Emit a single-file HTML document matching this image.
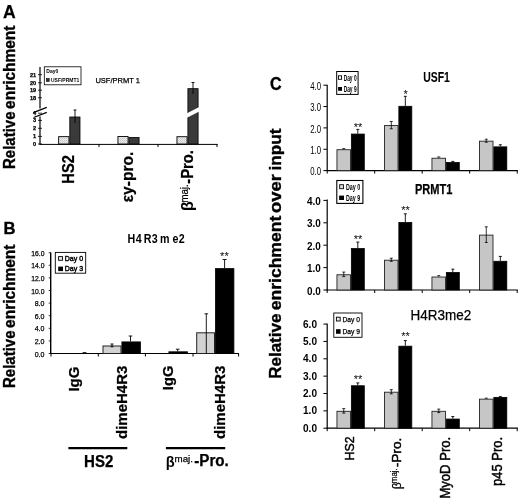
<!DOCTYPE html>
<html lang="en">
<head>
<meta charset="utf-8">
<title>Figure</title>
<style>
html,body{margin:0;padding:0;background:#fff;}
body{width:520px;height:501px;overflow:hidden;}
svg{display:block;}
svg text{font-family:"Liberation Sans",sans-serif;fill:#000;}
</style>
</head>
<body>
<svg width="520" height="501" viewBox="0 0 520 501">
<defs>
<pattern id="dots" width="2" height="2" patternUnits="userSpaceOnUse">
<rect width="2" height="2" fill="#ececec"/>
<rect width="1" height="1" fill="#c4c4c4"/>
<rect x="1" y="1" width="1" height="1" fill="#d4d4d4"/>
</pattern>
</defs>
<rect width="520" height="501" fill="#fff"/>

<g id="panelA">
<text font-size="17.6" font-weight="bold" x="3.0" y="17.5" stroke="#000" stroke-width="0.25">A</text>
<text font-size="15.6" font-weight="bold" transform="translate(15.0 169.0) rotate(-90)" stroke="#000" stroke-width="0.35"><tspan x="0.0" textLength="57.5" lengthAdjust="spacingAndGlyphs">Relative</tspan> <tspan x="60.1" textLength="83.3" lengthAdjust="spacingAndGlyphs">enrichment</tspan></text>
<line x1="40" y1="67" x2="40" y2="108.5" stroke="#000" stroke-width="1.2" />
<line x1="40" y1="116.5" x2="40" y2="144.5" stroke="#000" stroke-width="1.2" />
<line x1="39.5" y1="144.4" x2="217.5" y2="144.4" stroke="#000" stroke-width="1" />
<line x1="99" y1="144" x2="99" y2="147" stroke="#000" stroke-width="1" />
<line x1="158" y1="144" x2="158" y2="147" stroke="#000" stroke-width="1" />
<line x1="217" y1="144" x2="217" y2="147" stroke="#000" stroke-width="1" />
<line x1="33.3" y1="112.6" x2="46.8" y2="107.4" stroke="#000" stroke-width="1.3" />
<line x1="33.6" y1="117.5" x2="46.8" y2="112.4" stroke="#000" stroke-width="1.3" />
<line x1="38" y1="74.7" x2="42" y2="74.7" stroke="#000" stroke-width="0.8" />
<text font-size="5.4" font-weight="bold" text-anchor="end" textLength="6.2" lengthAdjust="spacingAndGlyphs" x="36.2" y="76.60000000000001" stroke="#000" stroke-width="0.25">21</text>
<line x1="38" y1="82.8" x2="42" y2="82.8" stroke="#000" stroke-width="0.8" />
<text font-size="5.4" font-weight="bold" text-anchor="end" textLength="6.2" lengthAdjust="spacingAndGlyphs" x="36.2" y="84.7" stroke="#000" stroke-width="0.25">20</text>
<line x1="38" y1="90.2" x2="42" y2="90.2" stroke="#000" stroke-width="0.8" />
<text font-size="5.4" font-weight="bold" text-anchor="end" textLength="6.2" lengthAdjust="spacingAndGlyphs" x="36.2" y="92.10000000000001" stroke="#000" stroke-width="0.25">19</text>
<line x1="38" y1="97.7" x2="42" y2="97.7" stroke="#000" stroke-width="0.8" />
<text font-size="5.4" font-weight="bold" text-anchor="end" textLength="6.2" lengthAdjust="spacingAndGlyphs" x="36.2" y="99.60000000000001" stroke="#000" stroke-width="0.25">18</text>
<line x1="38" y1="113.2" x2="42" y2="113.2" stroke="#000" stroke-width="0.8" />
<text font-size="5.4" font-weight="bold" text-anchor="end" textLength="3.1" lengthAdjust="spacingAndGlyphs" x="36.2" y="115.10000000000001" stroke="#000" stroke-width="0.25">4</text>
<line x1="38" y1="120.4" x2="42" y2="120.4" stroke="#000" stroke-width="0.8" />
<text font-size="5.4" font-weight="bold" text-anchor="end" textLength="3.1" lengthAdjust="spacingAndGlyphs" x="36.2" y="122.30000000000001" stroke="#000" stroke-width="0.25">3</text>
<line x1="38" y1="128.3" x2="42" y2="128.3" stroke="#000" stroke-width="0.8" />
<text font-size="5.4" font-weight="bold" text-anchor="end" textLength="3.1" lengthAdjust="spacingAndGlyphs" x="36.2" y="130.20000000000002" stroke="#000" stroke-width="0.25">2</text>
<line x1="38" y1="136.4" x2="42" y2="136.4" stroke="#000" stroke-width="0.8" />
<text font-size="5.4" font-weight="bold" text-anchor="end" textLength="3.1" lengthAdjust="spacingAndGlyphs" x="36.2" y="138.3" stroke="#000" stroke-width="0.25">1</text>
<line x1="38" y1="144" x2="42" y2="144" stroke="#000" stroke-width="0.8" />
<text font-size="5.4" font-weight="bold" text-anchor="end" textLength="3.1" lengthAdjust="spacingAndGlyphs" x="36.2" y="145.9" stroke="#000" stroke-width="0.25">0</text>
<rect x="44.30" y="66.80" width="36.70" height="18.00" fill="#fff" stroke="#000" stroke-width="0.8"/>
<text font-size="5.4" font-weight="bold" textLength="12" lengthAdjust="spacingAndGlyphs" x="46.3" y="73.4">Day0</text>
<rect x="46.40" y="78.60" width="2.80" height="2.80" fill="#333" stroke="#000" stroke-width="0.6"/>
<text font-size="5" font-weight="bold" textLength="28.2" lengthAdjust="spacingAndGlyphs" x="51" y="81.8">USF/PRMT1</text>
<text font-size="8" textLength="44.6" lengthAdjust="spacingAndGlyphs" x="95.4" y="83.4" stroke="#000" stroke-width="0.25">USF/PRMT 1</text>
<rect x="58.65" y="136.65" width="10.30" height="7.35" fill="url(#dots)" stroke="#000" stroke-width="0.9"/>
<rect x="69.80" y="117.00" width="10.20" height="27.00" fill="#3a3a3a" stroke="#000" stroke-width="0.8"/>
<line x1="75" y1="110" x2="75" y2="123" stroke="#000" stroke-width="0.9" />
<line x1="73.5" y1="110" x2="76.5" y2="110" stroke="#000" stroke-width="0.9" />
<rect x="117.95" y="136.45" width="10.10" height="7.55" fill="url(#dots)" stroke="#000" stroke-width="0.9"/>
<rect x="128.90" y="137.40" width="10.20" height="6.60" fill="#3a3a3a" stroke="#000" stroke-width="0.8"/>
<rect x="176.95" y="136.70" width="10.10" height="7.30" fill="url(#dots)" stroke="#000" stroke-width="0.9"/>
<rect x="187.90" y="88.65" width="10.20" height="55.35" fill="#3a3a3a" stroke="#000" stroke-width="0.8"/>
<line x1="193" y1="82.5" x2="193" y2="94" stroke="#000" stroke-width="0.9" />
<line x1="191.5" y1="82.5" x2="194.5" y2="82.5" stroke="#000" stroke-width="0.9" />
<polygon points="185.5,114 199.8,106.8 199.8,111.3 185.5,118.5" fill="#fff"/>
<text font-size="15.6" font-weight="bold" textLength="28.6" lengthAdjust="spacingAndGlyphs" transform="translate(74.3 183.7) rotate(-90)" stroke="#000" stroke-width="0.25">HS2</text>
<text font-size="17" font-weight="bold" textLength="50.6" lengthAdjust="spacingAndGlyphs" transform="translate(132.6 202.3) rotate(-90)" stroke="#000" stroke-width="0.25">&#949;y-pro.</text>
<text font-size="16" font-weight="bold" transform="translate(193.2 210.9) rotate(-90)">&#946;</text>
<text font-size="10" textLength="18.2" lengthAdjust="spacingAndGlyphs" transform="translate(187.6 202.5) rotate(-90)" stroke="#000" stroke-width="0.25">maj.</text>
<text font-size="16" font-weight="bold" textLength="33.8" lengthAdjust="spacingAndGlyphs" transform="translate(193.2 183.8) rotate(-90)" stroke="#000" stroke-width="0.25">-Pro.</text>
</g>
<g id="panelB">
<text font-size="16.6" font-weight="bold" x="3.6" y="234.2" stroke="#000" stroke-width="0.35">B</text>
<text font-size="15.6" font-weight="bold" transform="translate(15.0 388.0) rotate(-90)" stroke="#000" stroke-width="0.35"><tspan x="0.0" textLength="57.5" lengthAdjust="spacingAndGlyphs">Relative</tspan> <tspan x="60.1" textLength="83.3" lengthAdjust="spacingAndGlyphs">enrichment</tspan></text>
<line x1="50.7" y1="252.5" x2="50.7" y2="354.0" stroke="#000" stroke-width="1.4" />
<line x1="50.2" y1="353.5" x2="239" y2="353.5" stroke="#000" stroke-width="1" />
<line x1="51" y1="353.5" x2="51" y2="356.5" stroke="#000" stroke-width="1" />
<line x1="98.3" y1="353.5" x2="98.3" y2="356.5" stroke="#000" stroke-width="1" />
<line x1="145.4" y1="353.5" x2="145.4" y2="356.5" stroke="#000" stroke-width="1" />
<line x1="193" y1="353.5" x2="193" y2="356.5" stroke="#000" stroke-width="1" />
<line x1="238.6" y1="353.5" x2="238.6" y2="356.5" stroke="#000" stroke-width="1" />
<line x1="48.7" y1="353.5" x2="50.7" y2="353.5" stroke="#000" stroke-width="0.8" />
<text font-size="7.5" text-anchor="end" textLength="9.8" lengthAdjust="spacingAndGlyphs" x="44.5" y="356.5" stroke="#000" stroke-width="0.25">0.0</text>
<line x1="48.7" y1="340.9" x2="50.7" y2="340.9" stroke="#000" stroke-width="0.8" />
<text font-size="7.5" text-anchor="end" textLength="9.8" lengthAdjust="spacingAndGlyphs" x="44.5" y="343.9" stroke="#000" stroke-width="0.25">2.0</text>
<line x1="48.7" y1="328.3" x2="50.7" y2="328.3" stroke="#000" stroke-width="0.8" />
<text font-size="7.5" text-anchor="end" textLength="9.8" lengthAdjust="spacingAndGlyphs" x="44.5" y="331.3" stroke="#000" stroke-width="0.25">4.0</text>
<line x1="48.7" y1="315.7" x2="50.7" y2="315.7" stroke="#000" stroke-width="0.8" />
<text font-size="7.5" text-anchor="end" textLength="9.8" lengthAdjust="spacingAndGlyphs" x="44.5" y="318.7" stroke="#000" stroke-width="0.25">6.0</text>
<line x1="48.7" y1="303.1" x2="50.7" y2="303.1" stroke="#000" stroke-width="0.8" />
<text font-size="7.5" text-anchor="end" textLength="9.8" lengthAdjust="spacingAndGlyphs" x="44.5" y="306.1" stroke="#000" stroke-width="0.25">8.0</text>
<line x1="48.7" y1="290.5" x2="50.7" y2="290.5" stroke="#000" stroke-width="0.8" />
<text font-size="7.5" text-anchor="end" textLength="13.2" lengthAdjust="spacingAndGlyphs" x="44.5" y="293.5" stroke="#000" stroke-width="0.25">10.0</text>
<line x1="48.7" y1="277.9" x2="50.7" y2="277.9" stroke="#000" stroke-width="0.8" />
<text font-size="7.5" text-anchor="end" textLength="13.2" lengthAdjust="spacingAndGlyphs" x="44.5" y="280.9" stroke="#000" stroke-width="0.25">12.0</text>
<line x1="48.7" y1="265.3" x2="50.7" y2="265.3" stroke="#000" stroke-width="0.8" />
<text font-size="7.5" text-anchor="end" textLength="13.2" lengthAdjust="spacingAndGlyphs" x="44.5" y="268.3" stroke="#000" stroke-width="0.25">14.0</text>
<line x1="48.7" y1="252.7" x2="50.7" y2="252.7" stroke="#000" stroke-width="0.8" />
<text font-size="7.5" text-anchor="end" textLength="13.2" lengthAdjust="spacingAndGlyphs" x="44.5" y="255.7" stroke="#000" stroke-width="0.25">16.0</text>
<rect x="55.30" y="252.40" width="30.40" height="20.80" fill="#fff" stroke="#000" stroke-width="0.9"/>
<rect x="58.60" y="256.60" width="3.90" height="3.70" fill="#e8e8e8" stroke="#000" stroke-width="0.9"/>
<rect x="58.20" y="266.60" width="4.80" height="4.50" fill="#000"/>
<text font-size="7.8" textLength="18.3" lengthAdjust="spacingAndGlyphs" x="64.8" y="261.1" stroke="#000" stroke-width="0.45">Day 0</text>
<text font-size="7.8" textLength="18.3" lengthAdjust="spacingAndGlyphs" x="64.8" y="271.1" stroke="#000" stroke-width="0.45">Day 3</text>
<text font-size="12.3" font-weight="bold" transform="scale(0.87 1)" y="242.6" x="146.55 155.98 165.29 174.48 183.91 198.28 205.40">H4R3me2</text>
<rect x="82.60" y="352.20" width="3.80" height="1.30" fill="#000"/>
<rect x="103.00" y="346.00" width="18.00" height="7.50" fill="#d2d2d2" stroke="#222" stroke-width="1"/>
<line x1="112" y1="344" x2="112" y2="346.8" stroke="#000" stroke-width="0.9" />
<line x1="110.5" y1="344" x2="113.5" y2="344" stroke="#000" stroke-width="0.9" />
<line x1="110.5" y1="346.8" x2="113.5" y2="346.8" stroke="#000" stroke-width="0.9" />
<rect x="121.90" y="341.90" width="18.50" height="11.60" fill="#000" stroke="#000" stroke-width="0.8"/>
<line x1="130.5" y1="336" x2="130.5" y2="341.5" stroke="#000" stroke-width="0.9" />
<line x1="128.7" y1="336" x2="132.3" y2="336" stroke="#000" stroke-width="0.9" />
<rect x="168.90" y="351.80" width="18.50" height="1.70" fill="#000" stroke="#000" stroke-width="0.8"/>
<line x1="177.7" y1="349.2" x2="177.7" y2="351.4" stroke="#000" stroke-width="0.9" />
<line x1="175.89999999999998" y1="349.2" x2="179.5" y2="349.2" stroke="#000" stroke-width="0.9" />
<rect x="196.70" y="332.80" width="17.80" height="20.70" fill="#d2d2d2" stroke="#222" stroke-width="1"/>
<line x1="206.3" y1="313.8" x2="206.3" y2="353.5" stroke="#000" stroke-width="0.9" />
<line x1="204.5" y1="313.8" x2="208.10000000000002" y2="313.8" stroke="#000" stroke-width="0.9" />
<rect x="215.40" y="268.60" width="18.50" height="84.90" fill="#000" stroke="#000" stroke-width="0.8"/>
<line x1="224.6" y1="259.5" x2="224.6" y2="268.2" stroke="#000" stroke-width="0.9" />
<line x1="222.6" y1="259.5" x2="226.6" y2="259.5" stroke="#000" stroke-width="0.9" />
<text font-size="11" text-anchor="middle" x="224.4" y="260.3">**</text>
<text font-size="15.2" font-weight="bold" textLength="25" lengthAdjust="spacingAndGlyphs" transform="translate(78.8 391.6) rotate(-90)" stroke="#000" stroke-width="0.25">IgG</text>
<text font-size="15.4" font-weight="bold" textLength="73.4" lengthAdjust="spacingAndGlyphs" transform="translate(126.9 439) rotate(-90)" stroke="#000" stroke-width="0.25">dimeH4R3</text>
<text font-size="15.2" font-weight="bold" textLength="24.6" lengthAdjust="spacingAndGlyphs" transform="translate(172.9 390.2) rotate(-90)" stroke="#000" stroke-width="0.25">IgG</text>
<text font-size="15.4" font-weight="bold" textLength="73.4" lengthAdjust="spacingAndGlyphs" transform="translate(225.4 439) rotate(-90)" stroke="#000" stroke-width="0.25">dimeH4R3</text>
<line x1="68.4" y1="448.1" x2="127.3" y2="448.1" stroke="#000" stroke-width="2.4" />
<line x1="165.9" y1="448.1" x2="225.2" y2="448.1" stroke="#000" stroke-width="2.4" />
<text font-size="15.8" font-weight="bold" textLength="29.3" lengthAdjust="spacingAndGlyphs" x="84.1" y="466.8" stroke="#000" stroke-width="0.25">HS2</text>
<text font-size="14.6" font-weight="bold" x="165.8" y="466.5">&#946;</text>
<text font-size="9.7" textLength="18.4" lengthAdjust="spacingAndGlyphs" x="174.6" y="462" stroke="#000" stroke-width="0.25">maj.</text>
<text font-size="15.8" font-weight="bold" textLength="34.6" lengthAdjust="spacingAndGlyphs" x="194.2" y="466.4" stroke="#000" stroke-width="0.25">-Pro.</text>
</g>
<g id="panelC">
<text font-size="17.6" font-weight="bold" textLength="11.6" lengthAdjust="spacingAndGlyphs" x="270" y="89.8" stroke="#000" stroke-width="0.35">C</text>
<text font-size="16.4" font-weight="bold" transform="translate(281.1 378.8) rotate(-90)" stroke="#000" stroke-width="0.35"><tspan x="0.0" textLength="65.2" lengthAdjust="spacingAndGlyphs">Relative</tspan> <tspan x="68.5" textLength="94.6" lengthAdjust="spacingAndGlyphs">enrichment</tspan> <tspan x="165.8" textLength="38.8" lengthAdjust="spacingAndGlyphs">over</tspan> <tspan x="208.4" textLength="41.8" lengthAdjust="spacingAndGlyphs">input</tspan></text>
<line x1="327.2" y1="84.7" x2="327.2" y2="171.1" stroke="#000" stroke-width="1.2" />
<line x1="326.5" y1="170.6" x2="517.9" y2="170.6" stroke="#000" stroke-width="1.2" />
<line x1="327.2" y1="170.6" x2="327.2" y2="173.6" stroke="#000" stroke-width="1" />
<line x1="374.7" y1="170.6" x2="374.7" y2="173.6" stroke="#000" stroke-width="1" />
<line x1="422.2" y1="170.6" x2="422.2" y2="173.6" stroke="#000" stroke-width="1" />
<line x1="469.7" y1="170.6" x2="469.7" y2="173.6" stroke="#000" stroke-width="1" />
<line x1="517.2" y1="170.6" x2="517.2" y2="173.6" stroke="#000" stroke-width="1" />
<line x1="323.4" y1="170.6" x2="327" y2="170.6" stroke="#000" stroke-width="1" />
<text font-size="10.6" text-anchor="end" textLength="10.8" lengthAdjust="spacingAndGlyphs" x="321" y="175.4">0.0</text>
<line x1="323.4" y1="149.25" x2="327" y2="149.25" stroke="#000" stroke-width="1" />
<text font-size="10.6" text-anchor="end" textLength="10.8" lengthAdjust="spacingAndGlyphs" x="321" y="154.05">1.0</text>
<line x1="323.4" y1="127.89999999999999" x2="327" y2="127.89999999999999" stroke="#000" stroke-width="1" />
<text font-size="10.6" text-anchor="end" textLength="10.8" lengthAdjust="spacingAndGlyphs" x="321" y="132.7">2.0</text>
<line x1="323.4" y1="106.54999999999998" x2="327" y2="106.54999999999998" stroke="#000" stroke-width="1" />
<text font-size="10.6" text-anchor="end" textLength="10.8" lengthAdjust="spacingAndGlyphs" x="321" y="111.34999999999998">3.0</text>
<line x1="323.4" y1="85.19999999999999" x2="327" y2="85.19999999999999" stroke="#000" stroke-width="1" />
<text font-size="10.6" text-anchor="end" textLength="10.8" lengthAdjust="spacingAndGlyphs" x="321" y="89.99999999999999">4.0</text>
<rect x="336.95" y="149.70" width="13.55" height="20.90" fill="#c6c6c6" stroke="#222" stroke-width="0.9"/>
<line x1="343.775" y1="148.6095" x2="343.775" y2="149.25" stroke="#000" stroke-width="0.8" />
<line x1="342.275" y1="148.6095" x2="345.275" y2="148.6095" stroke="#000" stroke-width="0.8" />
<rect x="351.35" y="134.06" width="12.95" height="36.54" fill="#000" stroke="#000" stroke-width="0.8"/>
<line x1="357.825" y1="129.3945" x2="357.825" y2="133.66449999999998" stroke="#000" stroke-width="0.9" />
<line x1="356.325" y1="129.3945" x2="359.325" y2="129.3945" stroke="#000" stroke-width="0.9" />
<text font-size="11" text-anchor="middle" x="358.125" y="130.59449999999998">**</text>
<rect x="384.45" y="125.57" width="13.55" height="45.03" fill="#c6c6c6" stroke="#222" stroke-width="0.9"/>
<line x1="391.275" y1="121.495" x2="391.275" y2="128.754" stroke="#000" stroke-width="0.8" />
<line x1="389.775" y1="121.495" x2="392.775" y2="121.495" stroke="#000" stroke-width="0.8" />
<line x1="389.775" y1="128.754" x2="392.775" y2="128.754" stroke="#000" stroke-width="0.8" />
<rect x="398.85" y="106.31" width="12.95" height="64.29" fill="#000" stroke="#000" stroke-width="0.8"/>
<line x1="405.325" y1="96.30199999999999" x2="405.325" y2="105.9095" stroke="#000" stroke-width="0.9" />
<line x1="403.825" y1="96.30199999999999" x2="406.825" y2="96.30199999999999" stroke="#000" stroke-width="0.9" />
<text font-size="11" text-anchor="middle" x="405.625" y="97.502">*</text>
<rect x="431.95" y="158.24" width="13.55" height="12.36" fill="#c6c6c6" stroke="#222" stroke-width="0.9"/>
<line x1="438.775" y1="156.93599999999998" x2="438.775" y2="157.79" stroke="#000" stroke-width="0.8" />
<line x1="437.275" y1="156.93599999999998" x2="440.275" y2="156.93599999999998" stroke="#000" stroke-width="0.8" />
<rect x="446.35" y="162.46" width="12.95" height="8.14" fill="#000" stroke="#000" stroke-width="0.8"/>
<line x1="452.825" y1="161.4195" x2="452.825" y2="162.06" stroke="#000" stroke-width="0.9" />
<line x1="451.325" y1="161.4195" x2="454.325" y2="161.4195" stroke="#000" stroke-width="0.9" />
<rect x="479.45" y="141.16" width="13.55" height="29.44" fill="#c6c6c6" stroke="#222" stroke-width="0.9"/>
<line x1="486.27500000000003" y1="139.2155" x2="486.27500000000003" y2="142.2045" stroke="#000" stroke-width="0.8" />
<line x1="484.77500000000003" y1="139.2155" x2="487.77500000000003" y2="139.2155" stroke="#000" stroke-width="0.8" />
<line x1="484.77500000000003" y1="142.2045" x2="487.77500000000003" y2="142.2045" stroke="#000" stroke-width="0.8" />
<rect x="493.85" y="146.87" width="12.95" height="23.73" fill="#000" stroke="#000" stroke-width="0.8"/>
<line x1="500.32500000000005" y1="144.7665" x2="500.32500000000005" y2="146.4745" stroke="#000" stroke-width="0.9" />
<line x1="498.82500000000005" y1="144.7665" x2="501.82500000000005" y2="144.7665" stroke="#000" stroke-width="0.9" />
<rect x="336.70" y="71.50" width="21.40" height="22.90" fill="#fff" stroke="#000" stroke-width="1"/>
<rect x="338.50" y="75.80" width="3.10" height="3.50" fill="#fff" stroke="#000" stroke-width="0.9"/>
<rect x="338.10" y="87.00" width="3.90" height="3.80" fill="#000"/>
<text font-size="8.4" font-weight="bold" textLength="12.9" lengthAdjust="spacingAndGlyphs" x="343.7" y="80.8">Day 0</text>
<text font-size="8.4" font-weight="bold" textLength="12.9" lengthAdjust="spacingAndGlyphs" x="343.7" y="91.5">Day 9</text>
<text font-size="15.2" font-weight="bold" textLength="26.6" lengthAdjust="spacingAndGlyphs" x="423.3" y="81.5" stroke="#000" stroke-width="0.1">USF1</text>
<line x1="327.2" y1="199.5" x2="327.2" y2="290.5" stroke="#000" stroke-width="1.2" />
<line x1="326.5" y1="290" x2="517.9" y2="290" stroke="#000" stroke-width="1.2" />
<line x1="327.2" y1="290" x2="327.2" y2="293" stroke="#000" stroke-width="1" />
<line x1="374.7" y1="290" x2="374.7" y2="293" stroke="#000" stroke-width="1" />
<line x1="422.2" y1="290" x2="422.2" y2="293" stroke="#000" stroke-width="1" />
<line x1="469.7" y1="290" x2="469.7" y2="293" stroke="#000" stroke-width="1" />
<line x1="517.2" y1="290" x2="517.2" y2="293" stroke="#000" stroke-width="1" />
<line x1="323.4" y1="290.0" x2="327" y2="290.0" stroke="#000" stroke-width="1" />
<text font-size="10.6" font-weight="bold" text-anchor="end" textLength="13.8" lengthAdjust="spacingAndGlyphs" x="320.8" y="294.6">0.0</text>
<line x1="323.4" y1="267.6" x2="327" y2="267.6" stroke="#000" stroke-width="1" />
<text font-size="10.6" font-weight="bold" text-anchor="end" textLength="13.8" lengthAdjust="spacingAndGlyphs" x="320.8" y="272.20000000000005">1.0</text>
<line x1="323.4" y1="245.2" x2="327" y2="245.2" stroke="#000" stroke-width="1" />
<text font-size="10.6" font-weight="bold" text-anchor="end" textLength="13.8" lengthAdjust="spacingAndGlyphs" x="320.8" y="249.79999999999998">2.0</text>
<line x1="323.4" y1="222.8" x2="327" y2="222.8" stroke="#000" stroke-width="1" />
<text font-size="10.6" font-weight="bold" text-anchor="end" textLength="13.8" lengthAdjust="spacingAndGlyphs" x="320.8" y="227.4">3.0</text>
<line x1="323.4" y1="200.4" x2="327" y2="200.4" stroke="#000" stroke-width="1" />
<text font-size="10.6" font-weight="bold" text-anchor="end" textLength="13.8" lengthAdjust="spacingAndGlyphs" x="320.8" y="205.0">4.0</text>
<rect x="336.95" y="274.77" width="13.55" height="15.23" fill="#c6c6c6" stroke="#222" stroke-width="0.9"/>
<line x1="343.775" y1="272.08" x2="343.775" y2="276.56" stroke="#000" stroke-width="0.8" />
<line x1="342.275" y1="272.08" x2="345.275" y2="272.08" stroke="#000" stroke-width="0.8" />
<line x1="342.275" y1="276.56" x2="345.275" y2="276.56" stroke="#000" stroke-width="0.8" />
<rect x="351.35" y="248.51" width="12.95" height="41.49" fill="#000" stroke="#000" stroke-width="0.8"/>
<line x1="357.825" y1="242.064" x2="357.825" y2="248.112" stroke="#000" stroke-width="0.9" />
<line x1="356.325" y1="242.064" x2="359.325" y2="242.064" stroke="#000" stroke-width="0.9" />
<text font-size="11" text-anchor="middle" x="358.125" y="242.664">**</text>
<rect x="384.45" y="260.21" width="13.55" height="29.79" fill="#c6c6c6" stroke="#222" stroke-width="0.9"/>
<line x1="391.275" y1="258.192" x2="391.275" y2="261.328" stroke="#000" stroke-width="0.8" />
<line x1="389.775" y1="258.192" x2="392.775" y2="258.192" stroke="#000" stroke-width="0.8" />
<line x1="389.775" y1="261.328" x2="392.775" y2="261.328" stroke="#000" stroke-width="0.8" />
<rect x="398.85" y="222.53" width="12.95" height="67.47" fill="#000" stroke="#000" stroke-width="0.8"/>
<line x1="405.325" y1="213.84" x2="405.325" y2="222.12800000000001" stroke="#000" stroke-width="0.9" />
<line x1="403.825" y1="213.84" x2="406.825" y2="213.84" stroke="#000" stroke-width="0.9" />
<text font-size="11" text-anchor="middle" x="405.625" y="214.44">**</text>
<rect x="431.95" y="277.01" width="13.55" height="12.99" fill="#c6c6c6" stroke="#222" stroke-width="0.9"/>
<line x1="438.775" y1="275.664" x2="438.775" y2="276.56" stroke="#000" stroke-width="0.8" />
<line x1="437.275" y1="275.664" x2="440.275" y2="275.664" stroke="#000" stroke-width="0.8" />
<rect x="446.35" y="272.48" width="12.95" height="17.52" fill="#000" stroke="#000" stroke-width="0.8"/>
<line x1="452.825" y1="269.168" x2="452.825" y2="272.08" stroke="#000" stroke-width="0.9" />
<line x1="451.325" y1="269.168" x2="454.325" y2="269.168" stroke="#000" stroke-width="0.9" />
<rect x="479.45" y="235.12" width="13.55" height="54.88" fill="#c6c6c6" stroke="#222" stroke-width="0.9"/>
<line x1="486.27500000000003" y1="226.832" x2="486.27500000000003" y2="242.512" stroke="#000" stroke-width="0.8" />
<line x1="484.77500000000003" y1="226.832" x2="487.77500000000003" y2="226.832" stroke="#000" stroke-width="0.8" />
<line x1="484.77500000000003" y1="242.512" x2="487.77500000000003" y2="242.512" stroke="#000" stroke-width="0.8" />
<rect x="493.85" y="261.28" width="12.95" height="28.72" fill="#000" stroke="#000" stroke-width="0.8"/>
<line x1="500.32500000000005" y1="256.4" x2="500.32500000000005" y2="260.88" stroke="#000" stroke-width="0.9" />
<line x1="498.82500000000005" y1="256.4" x2="501.82500000000005" y2="256.4" stroke="#000" stroke-width="0.9" />
<rect x="336.80" y="180.50" width="26.10" height="22.90" fill="#fff" stroke="#000" stroke-width="1.1"/>
<rect x="339.70" y="184.70" width="3.70" height="4.00" fill="#e0e0e0" stroke="#000" stroke-width="0.9"/>
<rect x="339.10" y="195.60" width="4.90" height="4.40" fill="#000"/>
<text font-size="8.2" font-weight="bold" textLength="14.2" lengthAdjust="spacingAndGlyphs" x="346" y="190">Day 0</text>
<text font-size="8.2" font-weight="bold" textLength="14.2" lengthAdjust="spacingAndGlyphs" x="346" y="200.8">Day 9</text>
<text font-size="14" font-weight="bold" textLength="37.4" lengthAdjust="spacingAndGlyphs" x="414.9" y="194" stroke="#000" stroke-width="0.25">PRMT1</text>
<line x1="327.2" y1="323.5" x2="327.2" y2="428.7" stroke="#000" stroke-width="1.2" />
<line x1="326.5" y1="428.2" x2="517.9" y2="428.2" stroke="#000" stroke-width="1.2" />
<line x1="327.2" y1="428.2" x2="327.2" y2="431.2" stroke="#000" stroke-width="1" />
<line x1="374.7" y1="428.2" x2="374.7" y2="431.2" stroke="#000" stroke-width="1" />
<line x1="422.2" y1="428.2" x2="422.2" y2="431.2" stroke="#000" stroke-width="1" />
<line x1="469.7" y1="428.2" x2="469.7" y2="431.2" stroke="#000" stroke-width="1" />
<line x1="517.2" y1="428.2" x2="517.2" y2="431.2" stroke="#000" stroke-width="1" />
<line x1="323.4" y1="428.2" x2="327" y2="428.2" stroke="#000" stroke-width="1" />
<text font-size="10" font-weight="bold" text-anchor="end" textLength="14" lengthAdjust="spacingAndGlyphs" x="317" y="431.59999999999997">0.0</text>
<line x1="323.4" y1="410.84999999999997" x2="327" y2="410.84999999999997" stroke="#000" stroke-width="1" />
<text font-size="10" font-weight="bold" text-anchor="end" textLength="14" lengthAdjust="spacingAndGlyphs" x="317" y="414.24999999999994">1.0</text>
<line x1="323.4" y1="393.5" x2="327" y2="393.5" stroke="#000" stroke-width="1" />
<text font-size="10" font-weight="bold" text-anchor="end" textLength="14" lengthAdjust="spacingAndGlyphs" x="317" y="396.9">2.0</text>
<line x1="323.4" y1="376.15" x2="327" y2="376.15" stroke="#000" stroke-width="1" />
<text font-size="10" font-weight="bold" text-anchor="end" textLength="14" lengthAdjust="spacingAndGlyphs" x="317" y="379.54999999999995">3.0</text>
<line x1="323.4" y1="358.79999999999995" x2="327" y2="358.79999999999995" stroke="#000" stroke-width="1" />
<text font-size="10" font-weight="bold" text-anchor="end" textLength="14" lengthAdjust="spacingAndGlyphs" x="317" y="362.19999999999993">4.0</text>
<line x1="323.4" y1="341.45" x2="327" y2="341.45" stroke="#000" stroke-width="1" />
<text font-size="10" font-weight="bold" text-anchor="end" textLength="14" lengthAdjust="spacingAndGlyphs" x="317" y="344.84999999999997">5.0</text>
<line x1="323.4" y1="324.09999999999997" x2="327" y2="324.09999999999997" stroke="#000" stroke-width="1" />
<text font-size="10" font-weight="bold" text-anchor="end" textLength="14" lengthAdjust="spacingAndGlyphs" x="317" y="327.49999999999994">6.0</text>
<rect x="336.95" y="411.30" width="13.55" height="16.90" fill="#c6c6c6" stroke="#222" stroke-width="0.9"/>
<line x1="343.775" y1="408.5945" x2="343.775" y2="413.1055" stroke="#000" stroke-width="0.8" />
<line x1="342.275" y1="408.5945" x2="345.275" y2="408.5945" stroke="#000" stroke-width="0.8" />
<line x1="342.275" y1="413.1055" x2="345.275" y2="413.1055" stroke="#000" stroke-width="0.8" />
<rect x="351.35" y="385.75" width="12.95" height="42.45" fill="#000" stroke="#000" stroke-width="0.8"/>
<line x1="357.825" y1="382.9165" x2="357.825" y2="385.34549999999996" stroke="#000" stroke-width="0.9" />
<line x1="356.325" y1="382.9165" x2="359.325" y2="382.9165" stroke="#000" stroke-width="0.9" />
<text font-size="11" text-anchor="middle" x="358.125" y="382.81649999999996">**</text>
<rect x="384.45" y="392.21" width="13.55" height="35.98" fill="#c6c6c6" stroke="#222" stroke-width="0.9"/>
<line x1="391.275" y1="389.683" x2="391.275" y2="393.847" stroke="#000" stroke-width="0.8" />
<line x1="389.775" y1="389.683" x2="392.775" y2="389.683" stroke="#000" stroke-width="0.8" />
<line x1="389.775" y1="393.847" x2="392.775" y2="393.847" stroke="#000" stroke-width="0.8" />
<rect x="398.85" y="346.19" width="12.95" height="82.01" fill="#000" stroke="#000" stroke-width="0.8"/>
<line x1="405.325" y1="340.5825" x2="405.325" y2="345.78749999999997" stroke="#000" stroke-width="0.9" />
<line x1="403.825" y1="340.5825" x2="406.825" y2="340.5825" stroke="#000" stroke-width="0.9" />
<text font-size="11" text-anchor="middle" x="405.625" y="340.48249999999996">**</text>
<rect x="431.95" y="411.30" width="13.55" height="16.90" fill="#c6c6c6" stroke="#222" stroke-width="0.9"/>
<line x1="438.775" y1="409.115" x2="438.775" y2="412.585" stroke="#000" stroke-width="0.8" />
<line x1="437.275" y1="409.115" x2="440.275" y2="409.115" stroke="#000" stroke-width="0.8" />
<line x1="437.275" y1="412.585" x2="440.275" y2="412.585" stroke="#000" stroke-width="0.8" />
<rect x="446.35" y="419.06" width="12.95" height="9.14" fill="#000" stroke="#000" stroke-width="0.8"/>
<line x1="452.825" y1="416.5755" x2="452.825" y2="418.65749999999997" stroke="#000" stroke-width="0.9" />
<line x1="451.325" y1="416.5755" x2="454.325" y2="416.5755" stroke="#000" stroke-width="0.9" />
<rect x="479.45" y="399.15" width="13.55" height="29.05" fill="#c6c6c6" stroke="#222" stroke-width="0.9"/>
<line x1="486.27500000000003" y1="398.18449999999996" x2="486.27500000000003" y2="398.705" stroke="#000" stroke-width="0.8" />
<line x1="484.77500000000003" y1="398.18449999999996" x2="487.77500000000003" y2="398.18449999999996" stroke="#000" stroke-width="0.8" />
<rect x="493.85" y="397.37" width="12.95" height="30.83" fill="#000" stroke="#000" stroke-width="0.8"/>
<line x1="500.32500000000005" y1="396.623" x2="500.32500000000005" y2="396.96999999999997" stroke="#000" stroke-width="0.9" />
<line x1="498.82500000000005" y1="396.623" x2="501.82500000000005" y2="396.623" stroke="#000" stroke-width="0.9" />
<rect x="333.80" y="313.00" width="28.20" height="24.30" fill="#fff" stroke="#000" stroke-width="0.9"/>
<rect x="336.40" y="317.20" width="3.80" height="3.80" fill="#e8e8e8" stroke="#000" stroke-width="0.9"/>
<rect x="336.00" y="329.20" width="4.60" height="4.60" fill="#000"/>
<text font-size="7" textLength="17.5" lengthAdjust="spacingAndGlyphs" x="342.5" y="322.3" stroke="#000" stroke-width="0.25">Day 0</text>
<text font-size="7" textLength="17.5" lengthAdjust="spacingAndGlyphs" x="342.5" y="334.3" stroke="#000" stroke-width="0.25">Day 9</text>
<text font-size="14.8" textLength="60.7" lengthAdjust="spacingAndGlyphs" x="410.5" y="320" stroke="#000" stroke-width="0.25">H4R3me2</text>
<text font-size="13.4" textLength="24" lengthAdjust="spacingAndGlyphs" transform="translate(354 460.5) rotate(-90)" stroke="#000" stroke-width="0.45">HS2</text>
<text font-size="12" transform="translate(400.8 489.2) rotate(-90)" stroke="#000" stroke-width="0.25">&#946;</text>
<text font-size="9.6" textLength="15" lengthAdjust="spacingAndGlyphs" transform="translate(397.4 483.2) rotate(-90)" stroke="#000" stroke-width="0.25">maj.</text>
<text font-size="13.6" textLength="29.6" lengthAdjust="spacingAndGlyphs" transform="translate(401 467.3) rotate(-90)" stroke="#000" stroke-width="0.45">-Pro.</text>
<text font-size="14.3" textLength="61.8" lengthAdjust="spacingAndGlyphs" transform="translate(449.8 498.6) rotate(-90)" stroke="#000" stroke-width="0.45">MyoD Pro.</text>
<text font-size="14.3" textLength="49" lengthAdjust="spacingAndGlyphs" transform="translate(502 485.9) rotate(-90)" stroke="#000" stroke-width="0.45">p45 Pro.</text>
</g>
</svg>
</body>
</html>
